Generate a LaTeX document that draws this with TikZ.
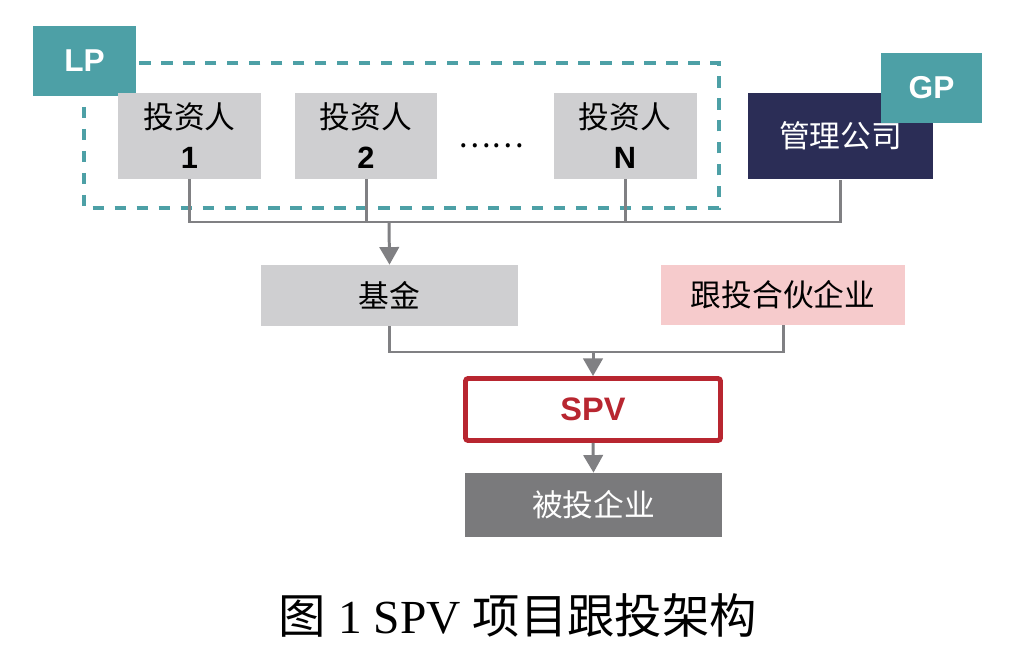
\documentclass[tikz,border=0pt]{standalone}
\usepackage{fontspec}
\setmainfont{Liberation Sans}
\newfontfamily\cjk{Noto Sans CJK SC}
\newfontfamily\capserif{Liberation Serif}
\usepackage{tikz}
\usetikzlibrary{shapes, arrows.meta, calc, positioning}

\definecolor{lpteal}{RGB}{77,160,166}
\definecolor{boxgray}{RGB}{207,207,209}
\definecolor{navy}{RGB}{43,45,86}
\definecolor{pinkbox}{RGB}{246,203,204}
\definecolor{spvred}{RGB}{184,38,48}
\definecolor{darkgray}{RGB}{122,122,124}
\definecolor{linegray}{RGB}{128,128,131}

\begin{document}
\begin{tikzpicture}[x=0.02cm, y=-0.02cm, >={Triangle[length=10pt,width=11pt]}]
	\tikzstyle{format} = [inner sep=0pt, align=center, font=\fontsize{17.5}{22.7}\selectfont]
	\tikzstyle{investor} = [format, fill=boxgray, minimum width=2.86cm, minimum height=1.72cm]
	\tikzstyle{tag} = [fill=lpteal, text=white, inner sep=0pt, font=\fontsize{18}{20}\selectfont\bfseries]
	\tikzstyle{conn} = [draw=linegray, line width=1.7pt]

	\useasboundingbox[fill=white] (0,0) rectangle (1016,651);

	% LP group
	\draw[lpteal, line width=1.9pt, dash pattern=on 6.5pt off 6pt] (84,63) rectangle (719,208);
	\node[tag, minimum width=2.06cm, minimum height=1.4cm] (lp) at (84.5,61) {LP};

	\node[investor] (inv1) at (189.5,136) {{\cjk 投资人}\\\textbf{1}};
	\node[investor] (inv2) at (366,136) {{\cjk 投资人}\\\textbf{2}};
	\node[format] (dots) at (491,146) {{\cjk ……}};
	\node[investor] (invN) at (625,136) {{\cjk 投资人}\\\textbf{N}};

	% GP
	\node[format, fill=navy, text=white, minimum width=3.7cm, minimum height=1.74cm] (mgmt) at (840.5,136) {\cjk 管理公司};
	\node[tag, minimum width=2.02cm, minimum height=1.4cm] (gp) at (931.5,88) {GP};

	\node[format, fill=boxgray, minimum width=5.14cm, minimum height=1.22cm] (fund) at (389.5,295.5) {\cjk 基金};
	\node[format, fill=pinkbox, minimum width=4.88cm, minimum height=1.2cm] (follow) at (783,295) {\cjk 跟投合伙企业};
	\node[format, draw=spvred, line width=2.8pt, rounded corners=1.5pt, text=spvred, minimum width=5.1cm, minimum height=1.24cm, font=\fontsize{18.5}{20}\selectfont\bfseries] (spv) at (593,409.5) {SPV};
	\node[format, fill=darkgray, text=white, minimum width=5.14cm, minimum height=1.28cm] (target) at (593.5,505) {\cjk 被投企业};

	\coordinate (j1) at (389,222);
	\coordinate (j2) at (593,352);

	\draw[conn] (inv1.south) |- (j1) -| (mgmt.south);
	\draw[conn] (inv2.south) -- (inv2.south |- j1);
	\draw[conn] (invN.south) -- (invN.south |- j1);
	\draw[conn, ->] (j1) -- (fund.north);

	\draw[conn] (fund.south) |- (j2) -| (follow.south);
	\draw[conn, ->] (j2) -- (spv.north);
	\draw[conn, ->] (spv.south) -- (target.north);

	\node[font=\fontsize{27}{30}\selectfont] (caption) at (518,616) {\cjk 图{\capserif\ 1 SPV }项目跟投架构};
\end{tikzpicture}
\end{document}
